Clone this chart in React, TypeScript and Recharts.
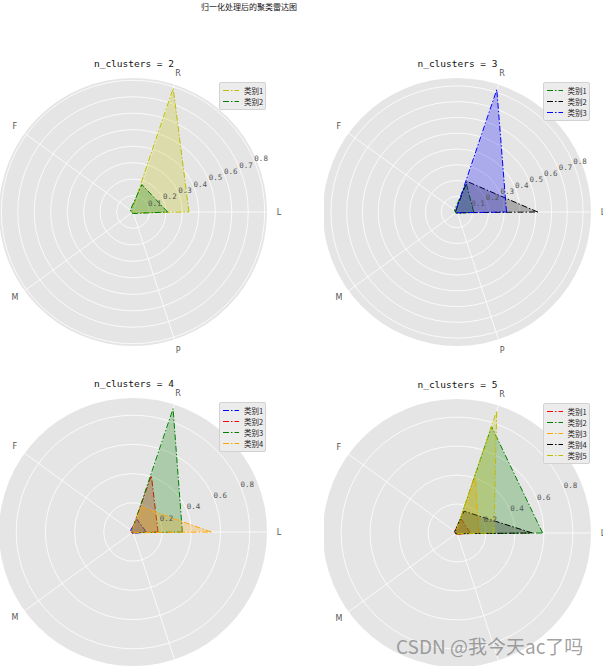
import React from 'react';
import { RadarChart, Radar, PolarGrid, PolarAngleAxis, PolarRadiusAxis } from 'recharts';

const features = ['L', 'R', 'F', 'M', 'P'];

// n_clusters = 2
const k2Cluster1 = [0.34, 0.79, 0.01, 0.005, 0.005];
const k2Cluster2 = [0.21, 0.175, 0.02, 0.01, 0.01];
// n_clusters = 3
const k3Cluster1 = [0.106, 0.19, 0.02, 0.01, 0.01];
const k3Cluster2 = [0.512, 0.204, 0.01, 0.01, 0.005];
const k3Cluster3 = [0.314, 0.817, 0.01, 0.005, 0.005];
// n_clusters = 4
const k4Cluster1 = [0.091, 0.09, 0.02, 0.01, 0.01];
const k4Cluster2 = [0.171, 0.407, 0.01, 0.01, 0.005];
const k4Cluster3 = [0.338, 0.888, 0.01, 0.005, 0.005];
const k4Cluster4 = [0.536, 0.181, 0.01, 0.01, 0.005];
// n_clusters = 5
const k5Cluster1 = [0.092, 0.1, 0.02, 0.01, 0.01];
const k5Cluster2 = [0.591, 0.772, 0.01, 0.005, 0.005];
const k5Cluster3 = [0.152, 0.408, 0.01, 0.01, 0.005];
const k5Cluster4 = [0.52, 0.158, 0.02, 0.01, 0.005];
const k5Cluster5 = [0.255, 0.887, 0.01, 0.005, 0.005];

const clusterNames = ['类别1', '类别2', '类别3', '类别4', '类别5'];

const ticksFine = [0.1, 0.2, 0.3, 0.4, 0.5, 0.6, 0.7, 0.8];
const ticksCoarse = [0.2, 0.4, 0.6, 0.8];

// rMax = radial limit of each polar axes (edge of the grey disc)
const panels = [
  { title: 'n_clusters = 2', series: [k2Cluster1, k2Cluster2], colors: ['#bfbf00', '#008000'], rMax: 0.814, ticks: ticksFine, left: 0, top: 50 },
  { title: 'n_clusters = 3', series: [k3Cluster1, k3Cluster2, k3Cluster3], colors: ['#008000', '#000000', '#0000ff'], rMax: 0.85, ticks: ticksFine, left: 323.5, top: 50 },
  { title: 'n_clusters = 4', series: [k4Cluster1, k4Cluster2, k4Cluster3, k4Cluster4], colors: ['#0000ff', '#ff0000', '#008000', '#ffa500'], rMax: 0.918, ticks: ticksCoarse, left: 0, top: 370 },
  { title: 'n_clusters = 5', series: [k5Cluster1, k5Cluster2, k5Cluster3, k5Cluster4, k5Cluster5], colors: ['#ff0000', '#008000', '#ffa500', '#000000', '#bfbf00'], rMax: 0.925, ticks: ticksCoarse, left: 323.5, top: 370.5 },
];

const W = 303;
const H = 320;
const CX = 133;
const CY = 162;
const R = 134; // disc radius in px
const DASH = '6 2 1.5 2';

// place the feature label on the same spoke as the radar vertex (L at 0°, counter-clockwise)
const AngleTick = (props: any) => {
  const i = features.indexOf(props.payload.value);
  const a = (2 * Math.PI * i) / features.length;
  return (
    <text x={CX + 146 * Math.cos(a)} y={CY - 146 * Math.sin(a)} textAnchor="middle" dominantBaseline="central" fontSize={8} fontFamily="DejaVu Sans" fill="#555">
      {props.payload.value}
    </text>
  );
};

const RadiusTick = (props: any) => {
  const a = (22.5 * Math.PI) / 180;
  return (
    <text x={props.x + 7 * Math.cos(a)} y={props.y - 7 * Math.sin(a)} textAnchor="middle" dominantBaseline="central" fontSize={7.5} fontFamily="DejaVu Sans Mono" fill="#555">
      {props.payload.value}
    </text>
  );
};

function Panel({ p }: { p: any }) {
  const data = features.map((f, i) => {
    const row: any = { feature: f };
    p.series.forEach((s: number[], j: number) => {
      row['c' + (j + 1)] = s[i];
    });
    return row;
  });
  // radius domain is [0, 1]; the disc shows only [0, rMax]
  const outer = R / p.rMax;
  return (
    <div style={{ position: 'absolute', left: p.left, top: p.top, width: W, height: H, overflow: 'hidden' }}>
      <div style={{ position: 'absolute', left: CX - R, top: CY - R, width: 2 * R, height: 2 * R, borderRadius: '50%', background: '#e5e5e5' }} />
      <div style={{ position: 'absolute', left: 0, width: 2 * CX + 2, top: 8, textAlign: 'center', fontFamily: 'DejaVu Sans Mono', fontSize: 9.5, color: '#111', lineHeight: '12px' }}>
        {p.title}
      </div>
      <div style={{ position: 'absolute', left: 0, top: 0 }}>
        <RadarChart width={W} height={H} data={data} cx={CX} cy={CY} outerRadius={outer} startAngle={-72} endAngle={288} margin={{ top: 0, right: 0, bottom: 0, left: 0 }}>
          <PolarGrid gridType="circle" stroke="#ffffff" strokeWidth={0.8} />
          <PolarAngleAxis dataKey="feature" tick={AngleTick} tickLine={false} axisLine={false} />
          {p.series.map((_: number[], j: number) => (
            <Radar
              key={j}
              dataKey={'c' + (j + 1)}
              name={clusterNames[j]}
              stroke={p.colors[j]}
              fill={p.colors[j]}
              fillOpacity={0.25}
              strokeWidth={1}
              strokeDasharray={DASH}
              dot={false}
              isAnimationActive={false}
            />
          ))}
          <PolarRadiusAxis angle={22.5} type="number" domain={[0, 1]} ticks={p.ticks} tick={RadiusTick} axisLine={false} tickLine={false} />
        </RadarChart>
      </div>
      <div style={{ position: 'absolute', left: 219, top: 32, width: 47, padding: '2px 0', background: '#ececec', border: '1px solid #d2d2d2', borderRadius: 2, boxSizing: 'border-box' }}>
        {p.series.map((_: number[], j: number) => (
          <div key={j} style={{ height: 11, display: 'flex', alignItems: 'center' }}>
            <svg width={24} height={11} style={{ flex: 'none' }}>
              <line x1={3} x2={19} y1={5.5} y2={5.5} stroke={p.colors[j]} strokeWidth={1} strokeDasharray={DASH} />
            </svg>
            <span style={{ fontFamily: 'Noto Sans CJK SC', fontSize: 7.5, color: '#222', lineHeight: '11px' }}>{clusterNames[j]}</span>
          </div>
        ))}
      </div>
    </div>
  );
}

export default function App() {
  return (
    <div style={{ position: 'absolute', left: 0, top: 0, width: 603, height: 666, overflow: 'hidden', background: '#fff' }}>
      <div style={{ position: 'absolute', left: 149, width: 200, top: 1, textAlign: 'center', fontFamily: 'Noto Sans CJK SC', fontSize: 8, lineHeight: '12px', color: '#111' }}>
        归一化处理后的聚类雷达图
      </div>
      {panels.map((p, i) => (
        <Panel key={i} p={p} />
      ))}
      <div style={{ position: 'absolute', left: 396, top: 633, fontFamily: 'Noto Sans CJK SC', fontSize: 19, lineHeight: '26px', color: 'rgba(130,130,130,0.75)', whiteSpace: 'nowrap' }}>
        CSDN @我今天ac了吗
      </div>
    </div>
  );
}
